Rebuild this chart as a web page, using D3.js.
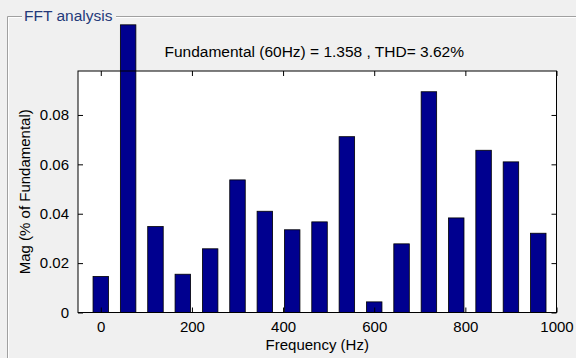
<!DOCTYPE html>
<head>
    <meta charset="utf-8">
    <title>FFT analysis</title>
    <script src="https://d3js.org/d3.v7.min.js"></script>
    <style>
        body { margin: 0; background: #f0f0f0; }
        svg { display: block; font-family: "Liberation Sans", Arial, sans-serif; }
        .tick text { font-size: 15px; fill: #000; font-family: "Liberation Sans", Arial, sans-serif; }
    </style>
</head>
<body>
    <svg class="chart" width="576" height="358"></svg>
    <script>
        // harmonic frequencies (Hz) and magnitudes
        var freqs = [0, 60, 120, 180, 240, 300, 360, 420, 480, 540, 600, 660, 720, 780, 840, 900, 960];
        var mags = [0.0146, 0.1165, 0.0348, 0.0155, 0.0258, 0.0537, 0.0410, 0.0335, 0.0367, 0.0712, 0.0043, 0.0278, 0.0894, 0.0383, 0.0657, 0.0610, 0.0321];
        var xTicks = [0, 200, 400, 600, 800, 1000];
        var yTicks = [0, 0.02, 0.04, 0.06, 0.08];
        var title = "Fundamental (60Hz) = 1.358 , THD= 3.62%";

        var axL = 78, axR = 556.5, axT = 71, axB = 312.5;
        var svg = d3.select("svg");

        // group box frame
        svg.append("path")
            .attr("d", "M22,16.5H7.5V358 M116,16.5H576")
            .attr("fill", "none").attr("stroke", "#a0a0a0");
        svg.append("path")
            .attr("d", "M22,17.5H8.5V358 M116,17.5H576")
            .attr("fill", "none").attr("stroke", "#ffffff");
        svg.append("text").attr("x", 24).attr("y", 21)
            .attr("font-size", "15.5px").attr("fill", "#243a7a")
            .text("FFT analysis");

        var x = d3.scaleLinear().domain([-50, 1000]).range([axL, axR]);
        var y = d3.scaleLinear().domain([0, 0.0978]).range([axB, axT]);

        svg.append("rect")
            .attr("x", axL).attr("y", axT)
            .attr("width", axR - axL).attr("height", axB - axT)
            .attr("fill", "#fff");

        // bars, not clipped to the axes (the fundamental sticks out the top)
        svg.append("g").selectAll("rect").data(freqs).enter().append("rect")
            .attr("x", function(d){ return x(d - 17); })
            .attr("width", function(d){ return x(d + 17) - x(d - 17); })
            .attr("y", function(d, i){ return y(mags[i]); })
            .attr("height", function(d, i){ return y(0) - y(mags[i]); })
            .attr("fill", "#00008f")
            .attr("stroke", "#000").attr("stroke-width", 0.8);

        // axes with inward ticks on all four sides
        svg.append("g").attr("transform", "translate(0," + axB + ")")
            .call(d3.axisBottom(x).tickValues(xTicks).tickSizeInner(-5).tickSizeOuter(0).tickPadding(9).tickFormat(d3.format("d")));
        svg.append("g").attr("transform", "translate(0," + axT + ")")
            .call(d3.axisTop(x).tickValues(xTicks).tickSizeInner(-5).tickSizeOuter(0).tickFormat(""));
        svg.append("g").attr("transform", "translate(" + axL + ",0)")
            .call(d3.axisLeft(y).tickValues(yTicks).tickSizeInner(-5).tickSizeOuter(0).tickPadding(9)
            .tickFormat(function(d){ return d === 0 ? "0" : d3.format(".2f")(d); }));
        svg.append("g").attr("transform", "translate(" + axR + ",0)")
            .call(d3.axisRight(y).tickValues(yTicks).tickSizeInner(-5).tickSizeOuter(0).tickFormat(""));
        svg.selectAll(".domain").remove();
        svg.selectAll(".tick line").attr("stroke", "#000");

        svg.append("rect")
            .attr("x", axL).attr("y", axT)
            .attr("width", axR - axL).attr("height", axB - axT)
            .attr("fill", "none").attr("stroke", "#000");

        svg.append("text").attr("x", (axL + axR) / 2 - 3).attr("y", 57)
            .attr("text-anchor", "middle").attr("font-size", "15.5px")
            .text(title);
        svg.append("text").attr("x", (axL + axR) / 2).attr("y", 350)
            .attr("text-anchor", "middle").attr("font-size", "15px")
            .text("Frequency (Hz)");
        svg.append("text")
            .attr("transform", "translate(30," + (axT + axB) / 2 + ") rotate(-90)")
            .attr("text-anchor", "middle").attr("font-size", "15px")
            .text("Mag (% of Fundamental)");
    </script>
</body>
